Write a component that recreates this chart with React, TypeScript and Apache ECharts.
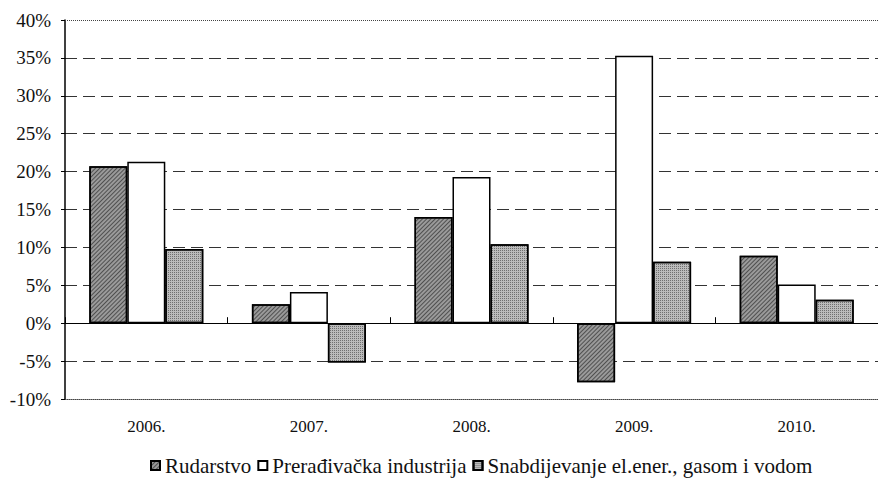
import React, { useEffect, useRef } from "react";
import * as echarts from "echarts";

const categories = ["2006.", "2007.", "2008.", "2009.", "2010."];
const rudarstvo = [20.7, 2.5, 14.0, -7.8, 8.9];
const preradjivacka = [21.3, 4.1, 19.3, 35.3, 5.1];
const snabdijevanje = [9.8, -5.2, 10.4, 8.1, 3.1];
const seriesNames = [
  "Rudarstvo",
  "Prerađivačka industrija",
  "Snabdijevanje el.ener., gasom i vodom",
];

const FONT = "Times New Roman, Liberation Serif, serif";

export default function App() {
  const ref = useRef<HTMLDivElement>(null);

  useEffect(() => {
    if (!ref.current) return;
    const chart = echarts.init(ref.current, undefined, { renderer: "svg" });
    const border = { borderColor: "#000", borderWidth: 1.5 };
    chart.setOption({
      animation: false,
      backgroundColor: "#fff",
      textStyle: { fontFamily: FONT },
      grid: { left: 65, top: 20, width: 820, height: 379, containLabel: false },
      legend: {
        top: 450,
        left: 145,
        icon: "rect",
        itemWidth: 9,
        itemHeight: 9,
        itemGap: 6,
        textStyle: { fontFamily: FONT, fontSize: 21, color: "#111" },
        data: seriesNames,
      },
      xAxis: [
        {
          type: "category",
          data: categories,
          position: "bottom",
          axisLine: {
            show: true,
            onZero: false,
            lineStyle: { color: "#444", type: "dotted", width: 1 },
          },
          axisTick: { show: false },
          axisLabel: { margin: 19, fontFamily: FONT, fontSize: 17, color: "#111" },
          splitLine: { show: false },
        },
        {
          type: "category",
          data: categories,
          position: "top",
          axisLine: { show: true, onZero: true, lineStyle: { color: "#000", width: 1.2 } },
          axisTick: { show: true, length: 6, lineStyle: { color: "#000" } },
          axisLabel: { show: false },
          splitLine: { show: false },
        },
      ],
      yAxis: {
        type: "value",
        min: -10,
        max: 40,
        interval: 5,
        axisLine: { show: true, lineStyle: { color: "#000", width: 1.5 } },
        axisTick: { show: true, length: 4, lineStyle: { color: "#000" } },
        axisLabel: {
          formatter: "{value}%",
          margin: 14,
          fontFamily: FONT,
          fontSize: 19,
          color: "#111",
        },
        splitLine: {
          show: true,
          showMinLine: false,
          showMaxLine: false,
          lineStyle: { color: "#333", type: [12, 6], width: 1 },
        },
      },
      series: [
        {
          name: seriesNames[0],
          type: "bar",
          xAxisIndex: 0,
          data: rudarstvo,
          barWidth: 38,
          barGap: "0%",
          itemStyle: {
            color: "#9a9a9a",
            ...border,
            decal: {
              symbol: "rect",
              symbolSize: 1,
              color: "rgba(30,30,30,0.6)",
              backgroundColor: "#c4c4c4",
              dashArrayX: [1, 0],
              dashArrayY: [1, 2],
              rotation: -Math.PI / 4,
            },
          },
          markLine: {
            silent: true,
            symbol: ["none", "none"],
            label: { show: false },
            lineStyle: { color: "#444", type: "dotted", width: 1 },
            data: [{ yAxis: 40 }],
          },
        },
        {
          name: seriesNames[1],
          type: "bar",
          xAxisIndex: 0,
          data: preradjivacka,
          barWidth: 38,
          barGap: "0%",
          itemStyle: { color: "#fff", ...border },
        },
        {
          name: seriesNames[2],
          type: "bar",
          xAxisIndex: 0,
          data: snabdijevanje,
          barWidth: 38,
          barGap: "0%",
          itemStyle: {
            color: "#bbbbbb",
            ...border,
            decal: {
              symbol: "rect",
              symbolSize: 1,
              color: "rgba(60,60,60,0.6)",
              backgroundColor: "#d6d6d6",
              dashArrayX: [1, 1],
              dashArrayY: [1, 1],
              rotation: 0,
            },
          },
        },
      ],
    });
    return () => chart.dispose();
  }, []);

  return (
    <div
      ref={ref}
      style={{ position: "fixed", left: 0, top: 0, width: 878, height: 478 }}
    />
  );
}
